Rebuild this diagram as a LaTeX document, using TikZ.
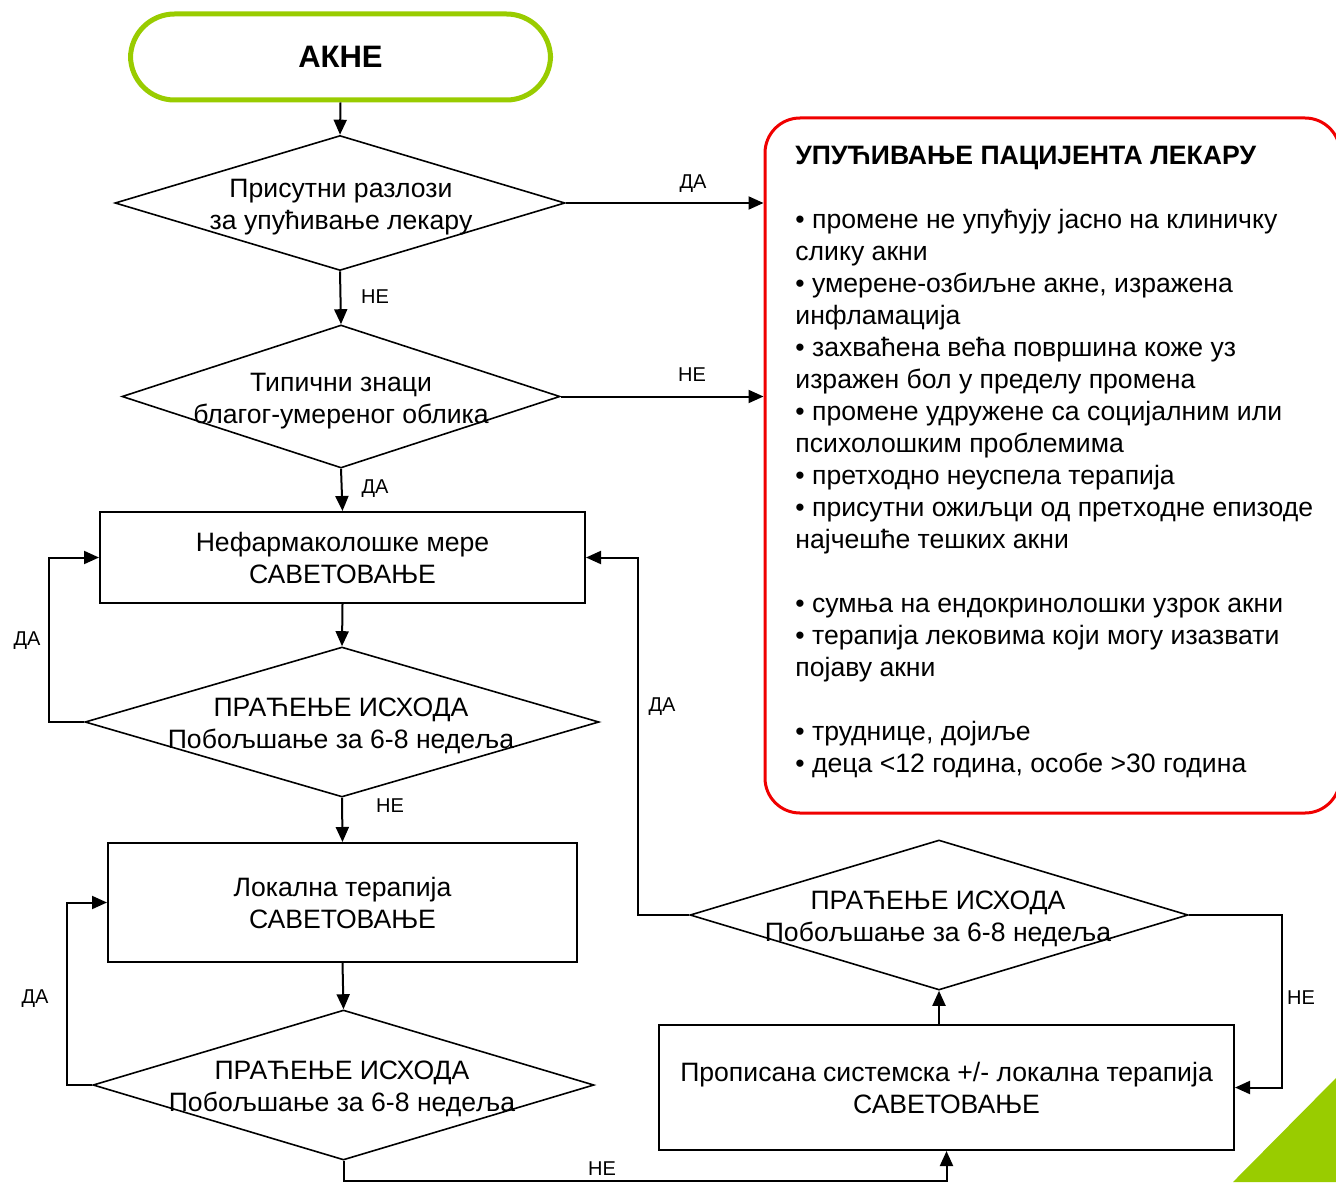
\documentclass[tikz,border=0pt]{standalone}
\usepackage{fontspec}
\setmainfont{Liberation Sans}
\usetikzlibrary{shapes.geometric,arrows.meta,calc}
\definecolor{lgreen}{RGB}{153,204,0}
\definecolor{rboxred}{RGB}{240,0,0}
\begin{document}
\begin{tikzpicture}[x=0.5pt,y=-0.5pt,
  txt/.style={font=\fontsize{13.3}{16}\selectfont, align=center, inner sep=0pt},
  lbl/.style={font=\fontsize{10}{12}\selectfont, inner sep=0pt},
  dia/.style={draw, diamond, line width=0.8pt, inner sep=0pt},
  procbox/.style={draw, rectangle, line width=1pt, font=\fontsize{13.3}{16}\selectfont, align=center, inner sep=0pt},
  arr/.style={line width=1pt, -{Triangle[length=7.5pt,width=6.5pt]}},
  ln/.style={line width=1pt}
]
\useasboundingbox (0,0) rectangle (1336,1182);
% green corner triangle
\fill[lgreen] (1336,1078) -- (1336,1182) -- (1233,1182) -- cycle;

% start
\node[draw=lgreen, line width=2.5pt, rounded corners=22pt, minimum width=210pt, minimum height=43pt,
      font=\fontsize{15.5}{18}\selectfont\bfseries] (start) at (340.5,57) {АКНЕ};

% referral box
\node[draw=rboxred, line width=1.5pt, rounded corners=17.5pt, minimum width=287.5pt, minimum height=347.5pt] (red) at (1052.5,465.5) {};
\node[txt, align=left, anchor=north west] (redtxt) at (795,146) {\textbf{УПУЋИВАЊЕ ПАЦИЈЕНТА ЛЕКАРУ}\\[16pt]
• промене не упућују јасно на клиничку\\
слику акни\\
• умерене-озбиљне акне, изражена\\
инфламација\\
• захваћена већа површина коже уз\\
изражен бол у пределу промена\\
• промене удружене са социјалним или\\
психолошким проблемима\\
• претходно неуспела терапија\\
• присутни ожиљци од претходне епизоде\\
најчешће тешких акни\\[16pt]
• сумња на ендокринолошки узрок акни\\
• терапија лековима који могу изазвати\\
појаву акни\\[16pt]
• труднице, дојиље\\
• деца <12 година, особе >30 година};

% diamonds
\node[dia, minimum width=225pt, minimum height=67.5pt] (d1) at (340,203) {};
\node[txt] (d1t) at (341,207) {Присутни разлози\\за упућивање лекару};
\node[dia, minimum width=219pt, minimum height=71.5pt] (d2) at (341,396.5) {};
\node[txt] (d2t) at (341,401) {Типични знаци\\благог-умереног облика};
\node[procbox, minimum width=242.5pt, minimum height=45.5pt] (b1) at (342.5,557.5) {Нефармаколошке мере\\САВЕТОВАЊЕ};
\node[dia, minimum width=257pt, minimum height=75pt] (d3) at (342,722) {};
\node[txt] (d3t) at (341,725.5) {ПРАЋЕЊЕ ИСХОДА\\Побољшање за 6-8 недеља};
\node[procbox, minimum width=234.5pt, minimum height=59.5pt] (b2) at (342.5,902.5) {Локална терапија\\САВЕТОВАЊЕ};
\node[dia, minimum width=250.5pt, minimum height=75pt] (d4) at (343.5,1085) {};
\node[txt] (d4t) at (342,1088.5) {ПРАЋЕЊЕ ИСХОДА\\Побољшање за 6-8 недеља};
\node[procbox, minimum width=287.5pt, minimum height=62.5pt] (b3) at (946.5,1087.5) {Прописана системска +/- локална терапија\\САВЕТОВАЊЕ};
\node[dia, minimum width=249pt, minimum height=75pt] (d5) at (939,915) {};
\node[txt] (d5t) at (938,918.5) {ПРАЋЕЊЕ ИСХОДА\\Побољшање за 6-8 недеља};

% connectors
\draw[arr] (start.south) -- (d1.north);
\draw[arr] (d1.east) -- (d1.east -| red.west);
\draw[arr] (d1.south) -- (d2.north);
\draw[arr] (d2.east) -- (d2.east -| red.west);
\draw[arr] (d2.south) -- (b1.north);
\draw[arr] (b1.south) -- (d3.north);
\draw[arr] (d3.west) -| ([xshift=-25pt]b1.west) -- (b1.west);
\draw[arr] (d3.south) -- (b2.north);
\draw[arr] (b2.south) -- (d4.north);
\draw[arr] (d4.west) -| ([xshift=-20pt]b2.west) -- (b2.west);
\draw[arr] (d4.south) |- ([yshift=-15pt]b3.south) -- (b3.south);
\draw[arr] (d5.south |- b3.north) -- (d5.south);
\draw[arr] (d5.west) -| ([xshift=26pt]b1.east) -- (b1.east);
\draw[arr] (d5.east) -| ([xshift=23.5pt]b3.east) -- (b3.east);

% labels
\node[lbl] (l1) at (693,184) {ДА};
\node[lbl] (l2) at (375,297) {НЕ};
\node[lbl] (l3) at (692,375) {НЕ};
\node[lbl] (l4) at (375,489) {ДА};
\node[lbl] (l5) at (27,641) {ДА};
\node[lbl] (l6) at (390,806) {НЕ};
\node[lbl] (l7) at (35,999) {ДА};
\node[lbl] (l8) at (662,707) {ДА};
\node[lbl] (l9) at (1301,998) {НЕ};
\node[lbl] (l10) at (602,1169) {НЕ};
\end{tikzpicture}
\end{document}
